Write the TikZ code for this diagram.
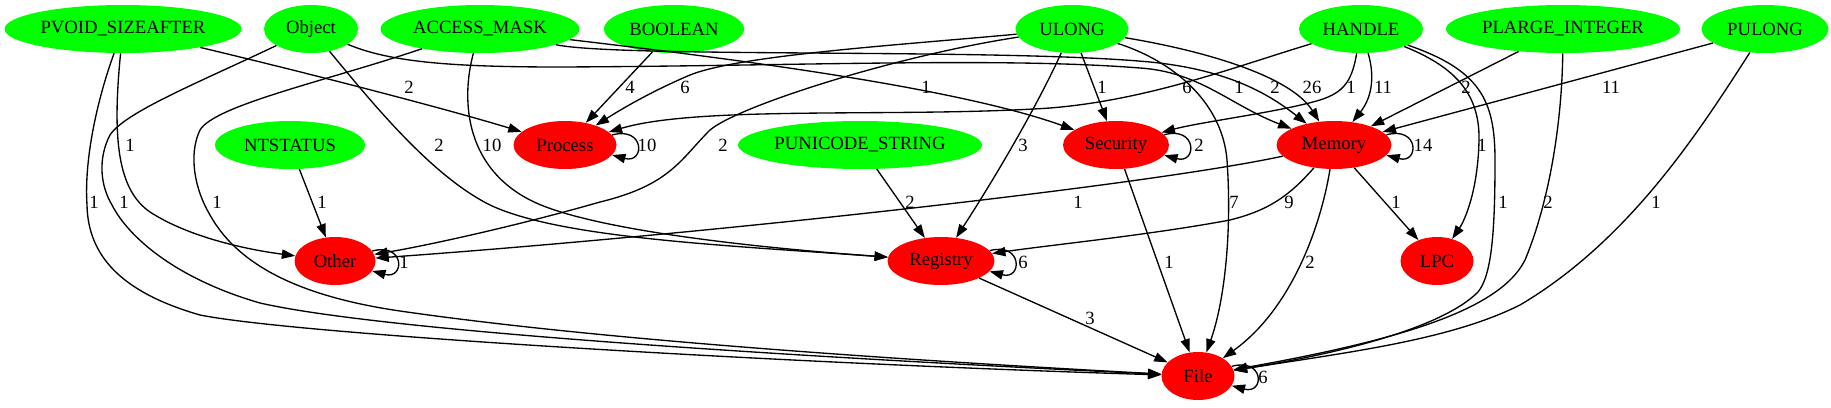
\documentclass[tikz,border=0pt]{standalone}
\usepackage{fontspec}
\setmainfont{Liberation Serif}
\usetikzlibrary{shapes.geometric,arrows.meta}
\definecolor{gvgreen}{RGB}{0,255,0}
\definecolor{gvred}{RGB}{255,0,0}
\begin{document}
\begin{tikzpicture}[x=0.75pt,y=-0.75pt,
  gnode/.style={ellipse, fill=gvgreen, draw=none, inner sep=0pt, minimum height=36pt, font=\fontsize{14}{16}\selectfont},
  rnode/.style={ellipse, fill=gvred, draw=none, inner sep=0pt, minimum height=36pt, font=\fontsize{14}{16}\selectfont},
  conn/.style={draw=black, line width=1pt, -{Triangle[length=10pt,width=7pt]}},
  lbl/.style={font=\fontsize{14}{16}\selectfont, inner sep=0pt}]
\useasboundingbox (0,0) rectangle (1831,407);
% top row
\node[gnode, minimum width=177.75pt] (pvoid) at (123,29) {PVOID\_SIZEAFTER};
\node[gnode, minimum width=70.5pt] (obj) at (311,29) {Object};
\node[gnode, minimum width=149.25pt] (am) at (480,29) {ACCESS\_MASK};
\node[gnode, minimum width=105pt] (bool) at (674,29) {BOOLEAN};
\node[gnode, minimum width=84.75pt] (ulong) at (1072,29) {ULONG};
\node[gnode, minimum width=93pt] (handle) at (1361,29) {HANDLE};
\node[gnode, minimum width=175.5pt] (plarge) at (1563,29) {PLARGE\_INTEGER};
\node[gnode, minimum width=95.25pt] (pulong) at (1765,29) {PULONG};
% second row
\node[gnode, minimum width=112.5pt] (ntstatus) at (290,145) {NTSTATUS};
\node[rnode, minimum width=77.25pt] (process) at (565,145) {Process};
\node[gnode, minimum width=183pt] (puni) at (860,145) {PUNICODE\_STRING};
\node[rnode, minimum width=79.5pt] (security) at (1116,145) {Security};
\node[rnode, minimum width=86.25pt] (memory) at (1334,145) {Memory};
% third row
\node[rnode, minimum width=60.75pt] (other) at (335,261) {Other};
\node[rnode, minimum width=80.25pt] (registry) at (941,261) {Registry};
\node[rnode, minimum width=54.75pt] (lpc) at (1437,261) {LPC};
% bottom
\node[rnode, minimum width=54.75pt] (file) at (1198,376) {File};

% PVOID_SIZEAFTER
\draw[conn] (pvoid) .. controls (320,76) and (450,110) .. (process) node[lbl,at={(409,87)}]{2};
\draw[conn] (pvoid) .. controls (112,140) and (118,190) .. (150,212) .. controls (190,238) and (250,250) .. (other) node[lbl,at={(130,145)}]{1};
\draw[conn] (pvoid) .. controls (97,100) and (84,160) .. (87,205) .. controls (88,255) and (120,292) .. (200,315) .. controls (300,335) and (800,364) .. (file) node[lbl,at={(94,202)}]{1};
% Object
\draw[conn] (obj) .. controls (200,82) and (125,112) .. (110,135) .. controls (98,158) and (100,185) .. (112,205) .. controls (130,240) and (180,280) .. (260,303) .. controls (400,335) and (900,362) .. (file) node[lbl,at={(124,202)}]{1};
\draw[conn] (obj) .. controls (370,100) and (430,175) .. (490,205) .. controls (560,238) and (720,245) .. (registry) node[lbl,at={(439,145)}]{2};
\draw[conn] (obj) .. controls (390,62) and (450,67) .. (560,67) .. controls (800,66) and (1000,57) .. (1140,68) .. controls (1200,72) and (1230,105) .. (memory) node[lbl,at={(1239,87)}]{1};
% ACCESS_MASK
\draw[conn] (am) .. controls (330,80) and (215,105) .. (200,130) .. controls (188,155) and (195,190) .. (210,215) .. controls (235,260) and (290,295) .. (400,311) .. controls (600,340) and (900,360) .. (file) node[lbl,at={(217,202)}]{1};
\draw[conn] (am) .. controls (462,95) and (462,165) .. (530,200) .. controls (580,226) and (720,245) .. (registry) node[lbl,at={(492,145)}]{10};
\draw[conn] (am) .. controls (700,55) and (950,85) .. (security) node[lbl,at={(926,87)}]{1};
\draw[conn] (am) .. controls (620,58) and (1000,48) .. (1150,62) .. controls (1230,70) and (1270,95) .. (memory) node[lbl,at={(1275,87)}]{2};
% NTSTATUS, BOOLEAN, PUNICODE_STRING
\draw[conn] (ntstatus) -- (other) node[lbl,at={(322,202)}]{1};
\draw[conn] (bool) -- (process) node[lbl,at={(630,87)}]{4};
\draw[conn] (puni) -- (registry) node[lbl,at={(910,202)}]{2};
% ULONG
\draw[conn] (ulong) .. controls (900,45) and (740,55) .. (690,75) .. controls (650,92) and (620,110) .. (process) node[lbl,at={(685,87)}]{6};
\draw[conn] (ulong) .. controls (900,55) and (740,105) .. (710,130) .. controls (680,160) and (670,185) .. (600,202) .. controls (520,225) and (430,245) .. (other) node[lbl,at={(723,145)}]{2};
\draw[conn] (ulong) -- (security) node[lbl,at={(1102,87)}]{1};
\draw[conn] (ulong) .. controls (1040,100) and (1000,170) .. (registry) node[lbl,at={(1023,145)}]{3};
\draw[conn] (ulong) .. controls (1170,60) and (1222,100) .. (1227,160) .. controls (1232,230) and (1225,300) .. (file) node[lbl,at={(1234,202)}]{7};
\draw[conn] (ulong) .. controls (1200,50) and (1290,75) .. (memory) node[lbl,at={(1312,87)}]{26};
% HANDLE
\draw[conn] (handle) .. controls (1240,65) and (1150,100) .. (1050,108) .. controls (900,118) and (700,105) .. (process) node[lbl,at={(1187,87)}]{6};
\draw[conn] (handle) .. controls (1352,80) and (1345,92) .. (1320,100) .. controls (1280,112) and (1200,122) .. (security) node[lbl,at={(1351,87)}]{1};
\draw[conn] (handle) .. controls (1376,80) and (1370,100) .. (memory) node[lbl,at={(1383,87)}]{11};
\draw[conn] (handle) .. controls (1450,65) and (1480,90) .. (1479,140) .. controls (1478,190) and (1465,220) .. (lpc) node[lbl,at={(1482,145)}]{1};
\draw[conn] (handle) .. controls (1480,70) and (1495,100) .. (1495,160) .. controls (1495,230) and (1492,275) .. (1478,292) .. controls (1440,330) and (1330,355) .. (file) node[lbl,at={(1503,202)}]{1};
% PLARGE_INTEGER
\draw[conn] (plarge) -- (memory) node[lbl,at={(1466,87)}]{2};
\draw[conn] (plarge) .. controls (1562,120) and (1550,200) .. (1525,260) .. controls (1500,310) and (1400,340) .. (file) node[lbl,at={(1548,202)}]{2};
% PULONG
\draw[conn] (pulong) -- (memory) node[lbl,at={(1611,87)}]{11};
\draw[conn] (pulong) .. controls (1700,130) and (1630,240) .. (1520,305) .. controls (1450,340) and (1350,352) .. (file) node[lbl,at={(1656,202)}]{1};
% Memory
\draw[conn] (memory) .. controls (1150,185) and (700,235) .. (other) node[lbl,at={(1078,202)}]{1};
\draw[conn] (memory) .. controls (1290,195) and (1270,210) .. (1230,220) .. controls (1150,235) and (1050,245) .. (registry) node[lbl,at={(1289,202)}]{9};
\draw[conn] (memory) .. controls (1320,230) and (1290,310) .. (file) node[lbl,at={(1310,262)}]{2};
\draw[conn] (memory) -- (lpc) node[lbl,at={(1396,202)}]{1};
% Security, Registry
\draw[conn] (security) -- (file) node[lbl,at={(1169,262)}]{1};
\draw[conn] (registry) -- (file) node[lbl,at={(1090,318)}]{3};
% self loops
\draw[conn] (process.12) .. controls +(33,-9) and +(33,9) .. (process.-12) node[lbl,at={(647,145)}]{10};
\draw[conn] (security.12) .. controls +(33,-9) and +(33,9) .. (security.-12) node[lbl,at={(1199,145)}]{2};
\draw[conn] (memory.11) .. controls +(33,-9) and +(33,9) .. (memory.-11) node[lbl,at={(1423,145)}]{14};
\draw[conn] (other.15) .. controls +(33,-9) and +(33,9) .. (other.-15) node[lbl,at={(404,262)}]{1};
\draw[conn] (registry.12) .. controls +(33,-9) and +(33,9) .. (registry.-12) node[lbl,at={(1023,262)}]{6};
\draw[conn] (file.16) .. controls +(33,-9) and +(33,9) .. (file.-16) node[lbl,at={(1263,377)}]{6};
\end{tikzpicture}
\end{document}
